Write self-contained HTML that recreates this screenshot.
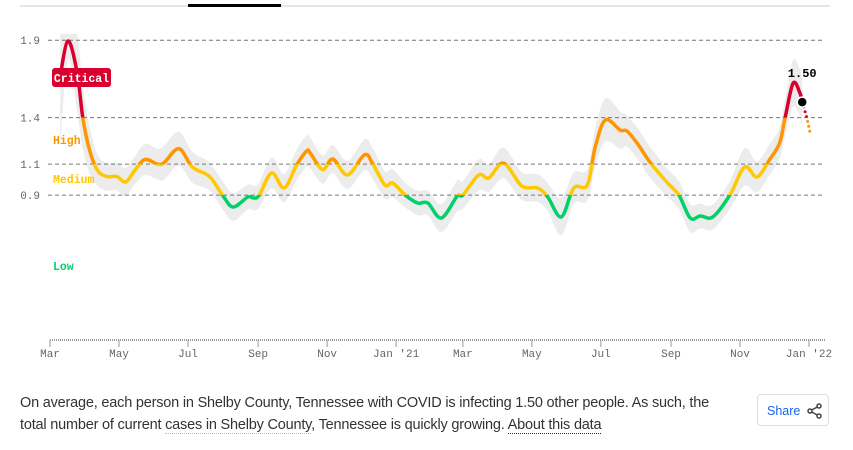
<!DOCTYPE html>
<html><head><meta charset="utf-8">
<style>
html,body{margin:0;padding:0;background:#fff;width:853px;height:450px;overflow:hidden}
svg{position:absolute;left:0;top:0}
.mono{font-family:"Liberation Mono","DejaVu Sans Mono",monospace}
#desc{position:absolute;left:20px;top:392px;width:700px;font-family:"Liberation Sans",sans-serif;font-size:14.5px;line-height:22px;color:#333;letter-spacing:-0.2px}
#desc .u1{border-bottom:1px dotted #bbb}
#desc a{color:#333;text-decoration:none;border-bottom:1px dotted #333}
#share{position:absolute;left:757px;top:394px;width:72px;height:32px;border:1px solid #ddd;border-radius:4px;box-sizing:border-box;font-family:"Liberation Sans",sans-serif;font-size:12.5px;color:#1a62e8}
#share span{position:absolute;left:9px;top:9px}
</style></head><body>
<svg id="chart" width="853" height="450" xmlns="http://www.w3.org/2000/svg"></svg>
<div id="desc">On average, each person in Shelby County, Tennessee with COVID is infecting 1.50 other people. As such, the total number of current <span class="u1">cases in Shelby County</span>, Tennessee is quickly growing. <a href="#">About this data</a></div>
<div id="share"><span>Share</span>
<svg width="16" height="16" style="left:49px;top:8px"><circle cx="12" cy="3" r="2" fill="none" stroke="#444" stroke-width="1.5"/><circle cx="3" cy="8" r="2" fill="none" stroke="#444" stroke-width="1.5"/><circle cx="12" cy="13" r="2" fill="none" stroke="#444" stroke-width="1.5"/><line x1="4.7" y1="7" x2="10.3" y2="4" stroke="#444" stroke-width="1.5"/><line x1="4.7" y1="9" x2="10.3" y2="12" stroke="#444" stroke-width="1.5"/></svg>
</div>
<script>
const dates = ["2020-03-10","2020-03-17","2020-03-25","2020-03-30","2020-04-05","2020-04-12","2020-04-20","2020-04-29","2020-05-07","2020-05-15","2020-05-24","2020-06-04","2020-06-10","2020-06-23","2020-07-05","2020-07-20","2020-08-01","2020-08-10","2020-08-23","2020-08-28","2020-09-02","2020-09-13","2020-09-24","2020-10-05","2020-10-14","2020-10-17","2020-10-28","2020-11-06","2020-11-19","2020-12-04","2020-12-11","2020-12-22","2020-12-29","2021-01-09","2021-01-20","2021-01-29","2021-02-10","2021-02-24","2021-03-01","2021-03-15","2021-03-24","2021-04-06","2021-04-22","2021-05-06","2021-05-15","2021-05-27","2021-06-07","2021-06-19","2021-06-26","2021-07-05","2021-07-18","2021-07-24","2021-08-02","2021-08-14","2021-08-29","2021-09-08","2021-09-18","2021-09-27","2021-10-08","2021-10-23","2021-11-05","2021-11-16","2021-11-27","2021-12-06","2021-12-11","2021-12-18","2021-12-24","2021-12-26"];
const rtValues = [1.67,1.895,1.69,1.40,1.19,1.06,1.02,1.02,0.985,1.06,1.13,1.10,1.11,1.20,1.08,1.02,0.894,0.823,0.888,0.881,0.90,1.043,0.946,1.094,1.185,1.172,1.065,1.133,1.03,1.16,1.107,0.965,0.978,0.90,0.849,0.849,0.752,0.894,0.90,1.03,1.01,1.107,0.959,0.946,0.888,0.759,0.946,0.965,1.21,1.385,1.32,1.314,1.236,1.107,0.978,0.90,0.752,0.765,0.759,0.90,1.081,1.017,1.127,1.236,1.404,1.623,1.559,1.50];
const bandHalf = [0.45,0.12,0.25,0.2,0.15,0.1,0.09,0.09,0.09,0.09,0.1,0.1,0.11,0.11,0.1,0.09,0.09,0.09,0.08,0.08,0.08,0.1,0.09,0.1,0.1,0.1,0.09,0.09,0.09,0.1,0.1,0.09,0.09,0.08,0.08,0.08,0.09,0.1,0.09,0.1,0.09,0.1,0.09,0.09,0.09,0.12,0.1,0.1,0.12,0.14,0.12,0.1,0.1,0.1,0.09,0.09,0.09,0.08,0.08,0.09,0.12,0.1,0.1,0.1,0.12,0.15,0.15,0.15];
const forecastDates = ["2021-12-26","2021-12-30","2022-01-02"];
const forecastValues = [1.50,1.40,1.30];
const yTicks = [0.9,1.1,1.4,1.9];
const xTickDates = ["2020-03-01","2020-05-01","2020-07-01","2020-09-01","2020-11-01","2021-01-01","2021-03-01","2021-05-01","2021-07-01","2021-09-01","2021-11-01","2022-01-01"];
const xTickLabels = ["Mar","May","Jul","Sep","Nov","Jan '21","Mar","May","Jul","Sep","Nov","Jan '22"];
const zones = [{lo:1.4,hi:3,c:"#d9002f"},{lo:1.1,hi:1.4,c:"#ff9500"},{lo:0.9,hi:1.1,c:"#ffc800"},{lo:-1,hi:0.9,c:"#00d16a"}];

const NS="http://www.w3.org/2000/svg";
const svg=document.getElementById('chart');
const t0=Date.parse("2020-03-01"), t1=Date.parse("2022-01-01");
function xs(d){return 50+(Date.parse(d)-t0)/(t1-t0)*759;}
function ys(v){return 334.5-154.9*v;}
function mk(tag,attrs,parent){const e=document.createElementNS(NS,tag);for(const k in attrs)e.setAttribute(k,attrs[k]);(parent||svg).appendChild(e);return e;}
function smooth(pts){let d="M"+pts[0][0]+","+pts[0][1];for(let i=0;i<pts.length-1;i++){const p0=pts[Math.max(i-1,0)],p1=pts[i],p2=pts[i+1],p3=pts[Math.min(i+2,pts.length-1)];const c1x=p1[0]+(p2[0]-p0[0])/6,c1y=p1[1]+(p2[1]-p0[1])/6,c2x=p2[0]-(p3[0]-p1[0])/6,c2y=p2[1]-(p3[1]-p1[1])/6;d+=" C"+c1x+","+c1y+" "+c2x+","+c2y+" "+p2[0]+","+p2[1];}return d;}

let e=mk('line',{x1:20,y1:6,x2:830,y2:6,stroke:'#ccc','stroke-width':1});


e=mk('rect',{x:188,y:4,width:93,height:3,fill:'#000'});



const defs=mk('defs',{});
const bc=mk('clipPath',{id:'bandclip'},defs);
mk('rect',{x:0,y:34,width:853,height:300},bc);
const up=dates.map((d,i)=>[xs(d),ys(rtValues[i]+bandHalf[i])]);
const lo=dates.map((d,i)=>[xs(d),ys(rtValues[i]-bandHalf[i])]).reverse();
let bd=smooth(up)+" L"+smooth(lo).slice(1)+" Z";
e=mk('path',{d:bd,fill:'#ececec','clip-path':'url(#bandclip)'});



yTicks.forEach(v=>{
  const g=mk('line',{x1:48,x2:825,y1:ys(v),y2:ys(v),stroke:'#777','stroke-dasharray':'4,3','stroke-width':1});
  
  
  const t=mk('text',{x:40,y:ys(v)+4,'text-anchor':'end','font-size':11,fill:'#666',class:'mono'});
  t.textContent=v.toFixed(1);
  
  
});

e=mk('line',{x1:50,x2:825,y1:340,y2:340,stroke:'#999','stroke-width':2,'stroke-dasharray':'1,1'});


xTickDates.forEach((d,i)=>{
  const x=xs(d);
  const l=mk('line',{x1:x,x2:x,y1:340,y2:347,stroke:'#999'});
  
  
  const t=mk('text',{x:x,y:357,'text-anchor':'middle','font-size':11,fill:'#666',class:'mono'});
  t.textContent=xTickLabels[i];
  
  
});

const pts=dates.map((d,i)=>[xs(d),ys(rtValues[i])]);
const ld=smooth(pts);
const fpts=forecastDates.map((d,i)=>[xs(d),ys(forecastValues[i])]);
const fd=smooth(fpts);
zones.forEach((z,i)=>{
  const cp=mk('clipPath',{id:'z'+i},defs);
  mk('rect',{x:0,width:853,y:ys(z.hi),height:ys(z.lo)-ys(z.hi)},cp);
  const p=mk('path',{d:ld,fill:'none',stroke:z.c,'stroke-width':3.5,'stroke-linecap':'round','clip-path':'url(#z'+i+')'});
  
  
  const f=mk('path',{d:fd,fill:'none',stroke:z.c,'stroke-width':3,'stroke-dasharray':'0,5','stroke-linecap':'round','clip-path':'url(#z'+i+')'});
  
  
});

e=mk('rect',{x:52,y:68,width:59,height:19,rx:3,fill:'#d9002f'});


[["Critical",81.5,82,'#fff','middle'],["High",53,144,'#ff9500','start'],["Medium",53,183,'#ffc800','start'],["Low",53,270,'#00d16a','start']].forEach(a=>{
  const t=mk('text',{x:a[1],y:a[2],fill:a[3],'text-anchor':a[4],'font-size':11.5,'font-weight':'bold',class:'mono'});
  t.textContent=a[0];
  
  
});

const lx=xs(dates[dates.length-1]), lv=rtValues[rtValues.length-1];
e=mk('circle',{cx:lx,cy:ys(lv),r:5,fill:'#000',stroke:'#fff','stroke-width':1.5});


e=mk('text',{x:lx,y:77,'text-anchor':'middle','font-size':12,'font-weight':'bold',fill:'#000',class:'mono'});
e.textContent=lv.toFixed(2);


</script>
</body></html>
